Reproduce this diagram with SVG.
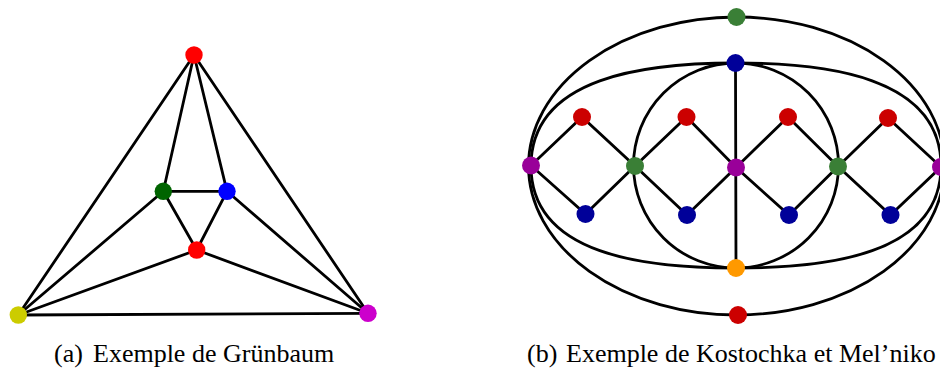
<svg xmlns="http://www.w3.org/2000/svg" width="940" height="368" viewBox="0 0 940 368">
<style>
.e{stroke:#000;stroke-width:2.8;fill:none;stroke-linecap:round}
.cap{font-size:26px;fill:#000}
</style>
<rect width="940" height="368" fill="#fff"/>
<g id="connectors">
  <g id="edges-a">
    <line class="e" x1="194" y1="55" x2="18.3" y2="315"/>
    <line class="e" x1="194" y1="55" x2="368" y2="313.3"/>
    <line class="e" x1="194" y1="55" x2="163.3" y2="191.3"/>
    <line class="e" x1="194" y1="55" x2="227" y2="191.3"/>
    <line class="e" x1="163.3" y1="191.3" x2="227" y2="191.3"/>
    <line class="e" x1="163.3" y1="191.3" x2="196.7" y2="250"/>
    <line class="e" x1="227" y1="191.3" x2="196.7" y2="250"/>
    <line class="e" x1="163.3" y1="191.3" x2="18.3" y2="315"/>
    <line class="e" x1="227" y1="191.3" x2="368" y2="313.3"/>
    <line class="e" x1="196.7" y1="250" x2="18.3" y2="315"/>
    <line class="e" x1="196.7" y1="250" x2="368" y2="313.3"/>
    <line class="e" x1="18.3" y1="315" x2="368" y2="313.3"/>
  </g>
  <g id="edges-b">
    <ellipse class="e" cx="736.5" cy="166" rx="208" ry="149"/>
    <path class="e" d="M531,166 C531,76.2 646.2,63 736,63 C825.8,63 941,76.2 941,166 C941,255.8 825.8,268 736,268 C646.2,268 531,255.8 531,166 Z"/>
    <circle class="e" cx="736" cy="165.5" r="102.5"/>
    <line class="e" x1="735.5" y1="63" x2="736" y2="268"/>
    <polyline class="e" points="531,165.5 582,117 635,166 686.5,117 736,167.5 788,117 838,166.5 888,118 941,167"/>
    <polyline class="e" points="531,165.5 585.5,214 635,166 687,215 736,167.5 789,215 838,166.5 890.5,215 941,167"/>
  </g>
</g>
<g id="nodes-a">
  <g id="a-top"><circle cx="194" cy="55" r="8.7" fill="#ff0000"/></g>
  <g id="a-green"><circle cx="163.3" cy="191.3" r="8.7" fill="#006400"/></g>
  <g id="a-blue"><circle cx="227" cy="191.3" r="8.7" fill="#0000ff"/></g>
  <g id="a-red"><circle cx="196.7" cy="250" r="8.7" fill="#ff0000"/></g>
  <g id="a-yellow"><circle cx="18.3" cy="315" r="8.7" fill="#cccc00"/></g>
  <g id="a-magenta"><circle cx="368" cy="313.3" r="8.7" fill="#cc00cc"/></g>
</g>
<g id="nodes-b">
  <g id="b-topgreen"><circle cx="736.5" cy="17" r="9" fill="#3a7f36"/></g>
  <g id="b-topblue"><circle cx="735.5" cy="63" r="9" fill="#000099"/></g>
  <g id="b-r1"><circle cx="582" cy="117" r="9" fill="#cc0000"/></g>
  <g id="b-r2"><circle cx="686.5" cy="117" r="9" fill="#cc0000"/></g>
  <g id="b-r3"><circle cx="788" cy="117" r="9" fill="#cc0000"/></g>
  <g id="b-r4"><circle cx="888" cy="118" r="9" fill="#cc0000"/></g>
  <g id="b-p1"><circle cx="531" cy="165.5" r="9" fill="#990099"/></g>
  <g id="b-g1"><circle cx="635" cy="166" r="9" fill="#3a7f36"/></g>
  <g id="b-p2"><circle cx="736" cy="167.5" r="9" fill="#990099"/></g>
  <g id="b-g2"><circle cx="838" cy="166.5" r="9" fill="#3a7f36"/></g>
  <g id="b-p3"><circle cx="941" cy="167" r="9" fill="#990099"/></g>
  <g id="b-b1"><circle cx="585.5" cy="214" r="9" fill="#000099"/></g>
  <g id="b-b2"><circle cx="687" cy="215" r="9" fill="#000099"/></g>
  <g id="b-b3"><circle cx="789" cy="215" r="9" fill="#000099"/></g>
  <g id="b-b4"><circle cx="890.5" cy="215" r="9" fill="#000099"/></g>
  <g id="b-orange"><circle cx="736" cy="268" r="9" fill="#ff9900"/></g>
  <g id="b-bottomred"><circle cx="738" cy="315" r="9" fill="#cc0000"/></g>
</g>
<g id="captions" font-family="'Liberation Serif', 'DejaVu Serif', serif">
  <text class="cap" x="54" y="362">(a)</text>
  <text class="cap" x="93" y="362">Exemple de Grünbaum</text>
  <text class="cap" x="527" y="362">(b)</text>
  <text class="cap" x="566" y="362">Exemple de Kostochka et Mel’niko</text>
</g>
</svg>
